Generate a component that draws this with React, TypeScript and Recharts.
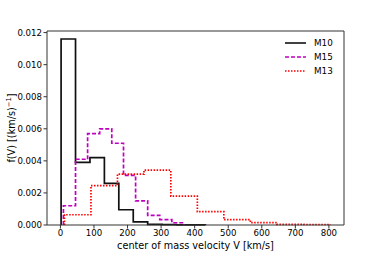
import React from 'react';
import { LineChart, Line, XAxis, YAxis, ReferenceLine } from 'recharts';

// bin edges [km/s] and heights for each histogram
const m10Edges = [2, 45, 88, 131, 174, 217, 260, 303, 346, 389, 432];
const m10Values = [0.0116, 0.0039, 0.0042, 0.0026, 0.00095, 0.0002, 0.00004, 0.00002, 0.00001, 0.00001];

const m15Edges = [9, 45, 81, 117, 153, 188, 224, 260, 296, 332, 368];
const m15Values = [0.0012, 0.0041, 0.0057, 0.006, 0.0051, 0.0031, 0.0015, 0.0006, 0.00034, 0.00014];

const m13Edges = [12, 91, 170, 249, 329, 408, 487, 566, 645, 725, 804];
const m13Values = [0.00064, 0.00246, 0.00317, 0.00342, 0.0018, 0.00083, 0.00033, 0.00015, 0.00004, 0.00003];

const xTicks = [0, 100, 200, 300, 400, 500, 600, 700, 800];
const yTicks = [0, 0.002, 0.004, 0.006, 0.008, 0.01, 0.012];
const xDomain = [-40, 845];
const yDomain = [0, 0.0121];

const series = [
  { name: 'M10', edges: m10Edges, values: m10Values, color: '#111111', dash: undefined },
  { name: 'M15', edges: m15Edges, values: m15Values, color: '#bf00bf', dash: '4 2' },
  { name: 'M13', edges: m13Edges, values: m13Values, color: '#ff0000', dash: '1.5 1.5' },
];

// outline of a step histogram for a stepAfter line
const toSteps = (edges: number[], values: number[]) => {
  const pts = [{ x: edges[0], y: 0 }];
  values.forEach((v, i) => pts.push({ x: edges[i], y: v }));
  pts.push({ x: edges[edges.length - 1], y: 0 });
  return pts;
};

const font = 'DejaVu Sans, sans-serif';
const fs = 8.6;
const labelFs = 9.7;
const tickStyle = { fill: '#000', fontSize: fs, fontFamily: font };

const LegendBox = () => (
  <div style={{ position: 'absolute', left: 285, top: 36, fontFamily: font, fontSize: 8.8, color: '#000' }}>
    {series.map((s) => (
      <div key={s.name} style={{ display: 'flex', alignItems: 'center', height: 14 }}>
        <svg width={22} height={6} style={{ marginRight: 7 }}>
          <line x1={0} y1={3} x2={21} y2={3} stroke={s.color} strokeWidth={1.6} strokeDasharray={s.dash} />
        </svg>
        <span>{s.name}</span>
      </div>
    ))}
  </div>
);

export default function App() {
  return (
    <div style={{ position: 'absolute', left: 0, top: 0, width: 382, height: 253, background: '#fff' }}>
      <LineChart width={382} height={253} margin={{ top: 31, right: 38, bottom: 0, left: 0 }}>
        <XAxis
          type="number"
          dataKey="x"
          domain={xDomain}
          ticks={xTicks}
          allowDuplicatedCategory={false}
          height={28}
          tickSize={3.5}
          tickMargin={1.5}
          tick={tickStyle}
          stroke="#333"
          label={{
            content: () => (
              <text x={195.5} y={249} textAnchor="middle" fontSize={labelFs} fontFamily={font} fill="#000">
                center of mass velocity V [km/s]
              </text>
            ),
          }}
        />
        <YAxis
          type="number"
          domain={yDomain}
          ticks={yTicks}
          width={47}
          tickSize={3.5}
          tickMargin={1.5}
          tick={tickStyle}
          tickFormatter={(v) => Number(v).toFixed(3)}
          stroke="#333"
          label={{
            content: () => (
              <text x={15} y={128} transform="rotate(-90 15 128)" textAnchor="middle" fontSize={labelFs} fontFamily={font} fill="#000">
                f(V) [(km/s)
                <tspan fontSize={6.8} dy={-4}>−1</tspan>
                <tspan dy={4}>]</tspan>
              </text>
            ),
          }}
        />
        <ReferenceLine y={yDomain[1]} stroke="#333" strokeWidth={1} />
        <ReferenceLine x={xDomain[1]} stroke="#333" strokeWidth={1} />
        {series.map((s) => (
          <Line
            key={s.name}
            name={s.name}
            data={toSteps(s.edges, s.values)}
            dataKey="y"
            type="stepAfter"
            stroke={s.color}
            strokeWidth={1.7}
            strokeDasharray={s.dash}
            dot={false}
            activeDot={false}
            isAnimationActive={false}
          />
        ))}
      </LineChart>
      <LegendBox />
    </div>
  );
}
